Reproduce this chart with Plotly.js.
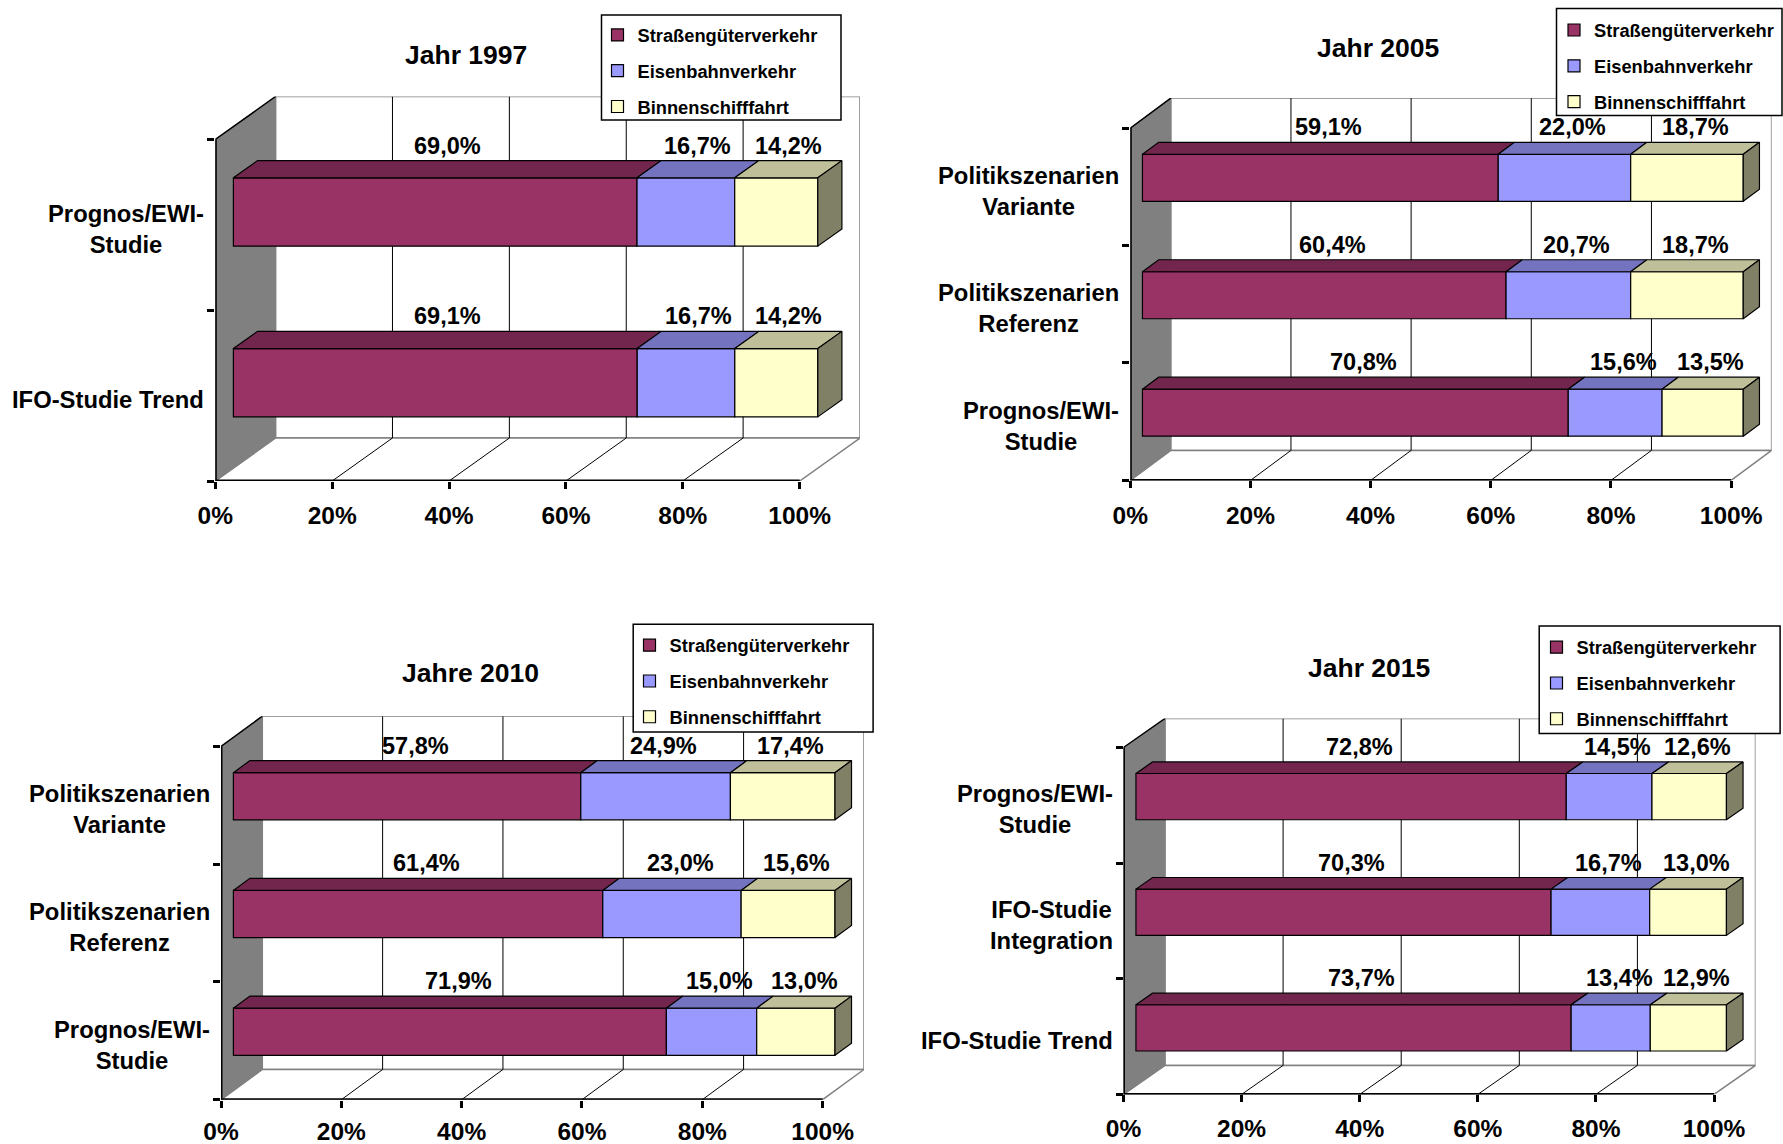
<!DOCTYPE html>
<html>
<head>
<meta charset="utf-8">
<script src="https://cdn.plot.ly/plotly-3.0.1.min.js"></script>
<style>
html,body{margin:0;padding:0;background:#ffffff;}
#chart{width:1783px;height:1144px;}
</style>
</head>
<body>
<div id="chart"></div>
<script>
// ---------------- DATA ----------------
const seriesNames = ['Straßengüterverkehr', 'Eisenbahnverkehr', 'Binnenschifffahrt'];
const xTickValues = [0, 20, 40, 60, 80, 100];
const xTickLabels = ['0%', '20%', '40%', '60%', '80%', '100%'];

const title1997 = 'Jahr 1997';
const categories1997 = ['Prognos/EWI-<br>Studie', 'IFO-Studie Trend'];
const road1997 = [69.0, 69.1];
const rail1997 = [16.7, 16.7];
const ship1997 = [14.2, 14.2];

const title2005 = 'Jahr 2005';
const categories2005 = ['Politikszenarien<br>Variante', 'Politikszenarien<br>Referenz', 'Prognos/EWI-<br>Studie'];
const road2005 = [59.1, 60.4, 70.8];
const rail2005 = [22.0, 20.7, 15.6];
const ship2005 = [18.7, 18.7, 13.5];

const title2010 = 'Jahre 2010';
const categories2010 = ['Politikszenarien<br>Variante', 'Politikszenarien<br>Referenz', 'Prognos/EWI-<br>Studie'];
const road2010 = [57.8, 61.4, 71.9];
const rail2010 = [24.9, 23.0, 15.0];
const ship2010 = [17.4, 15.6, 13.0];

const title2015 = 'Jahr 2015';
const categories2015 = ['Prognos/EWI-<br>Studie', 'IFO-Studie<br>Integration', 'IFO-Studie Trend'];
const road2015 = [72.8, 70.3, 73.7];
const rail2015 = [14.5, 16.7, 13.4];
const ship2015 = [12.6, 13.0, 12.9];

// ---------------- STYLE / LAYOUT ----------------
const W = 1783, H = 1144;
const FONT = 'Liberation Sans, Arial, Helvetica, sans-serif';
const frontColors = ['#993366', '#9999FF', '#FFFFCC'];
const topColors = ['#73264D', '#7373BF', '#BFBF99'];
const sideColor = '#808066';
const BAR = 0.4;            // bar thickness (category units)
const D1 = 0.3, D2 = 0.7;   // bar depth position (fraction of box depth)

// pixel geometry of each 3D box: front-left 0% x, front 100% x, front bottom y, front top y, depth dx, depth dy
const panels = [
  {title: title1997, cats: categories1997, series: [road1997, rail1997, ship1997],
   x0: 215.3, x100: 799.7, yb: 481, yt: 139.5, dx: 60.3, dy: 43, tickStandoff: 6,
   titlePos: [466, 55], legendBox: [601.5, 15, 841, 120], legendPos: [597.5, 16.5]},
  {title: title2005, cats: categories2005, series: [road2005, rail2005, ship2005],
   x0: 1130.3, x100: 1731.1, yb: 480.4, yt: 128.1, dx: 40.5, dy: 30, tickStandoff: 6,
   titlePos: [1378, 48.2], legendBox: [1556.5, 8.6, 1782, 115.4], legendPos: [1554, 11.6]},
  {title: title2010, cats: categories2010, series: [road2010, rail2010, ship2010],
   x0: 221, x100: 822.6, yb: 1099.7, yt: 746.4, dx: 41.3, dy: 30.2, tickStandoff: 3,
   titlePos: [470.7, 672.9], legendBox: [633.2, 624.3, 873.1, 731.9], legendPos: [629.5, 626.8]},
  {title: title2015, cats: categories2015, series: [road2015, rail2015, ship2015],
   x0: 1123.5, x100: 1714, yb: 1094.4, yt: 747.5, dx: 41.5, dy: 29, tickStandoff: 5,
   titlePos: [1368.9, 667.7], legendBox: [1539.2, 626, 1780.1, 733.6], legendPos: [1536.5, 628.8]}
];

const fmt = v => v.toFixed(1).replace('.', ',') + '%';

const traces = [];
const shapes = [];
const annotations = [];
const layout = {
  width: W, height: H,
  margin: {l: 0, r: 0, t: 0, b: 0, autoexpand: false},
  paper_bgcolor: '#ffffff', plot_bgcolor: 'rgba(0,0,0,0)',
  font: {family: FONT, color: '#000'},
  barmode: 'overlay',
  showlegend: true,
  shapes: shapes, annotations: annotations
};

panels.forEach((p, k) => {
  const ax = k === 0 ? '' : String(k + 1);
  const xa = 'x' + ax, ya = 'y' + ax;
  const legId = 'legend' + ax;
  const N = p.cats.length;
  const pxX = (p.x100 - p.x0) / 100;
  const pxY = (p.yb - p.yt) / N;
  const DXu = p.dx / pxX, DYu = p.dy / pxY;

  layout['xaxis' + ax] = {
    domain: [p.x0 / W, (p.x100 + p.dx) / W], range: [0, 100 + DXu], autorange: false, anchor: ya,
    tickmode: 'array', tickvals: xTickValues, ticktext: xTickLabels,
    ticks: 'outside', ticklen: 7, tickwidth: 3, tickcolor: '#000',
    tickfont: {family: FONT, size: 24.5, color: '#000', weight: 'bold'},
    ticklabelstandoff: p.tickStandoff,
    showgrid: false, zeroline: false, showline: false, fixedrange: true
  };
  layout['yaxis' + ax] = {
    domain: [1 - p.yb / H, 1 - (p.yt - p.dy) / H], range: [0, N + DYu], autorange: false, anchor: xa,
    tickmode: 'array', tickvals: Array.from({length: N + 1}, (_, i) => i),
    ticks: 'outside', ticklen: 7, tickwidth: 3, tickcolor: '#000', showticklabels: false,
    showgrid: false, zeroline: false, showline: false, fixedrange: true
  };
  layout[legId] = {
    x: p.legendPos[0] / W, y: 1 - p.legendPos[1] / H, xanchor: 'left', yanchor: 'top',
    bgcolor: 'rgba(0,0,0,0)', borderwidth: 0,
    font: {family: FONT, size: 18.3, color: '#000', weight: 'bold'},
    traceorder: 'grouped', tracegroupgap: 9, itemclick: false, itemdoubleclick: false
  };
  // legend frame
  shapes.push({type: 'rect', xref: 'paper', yref: 'paper', layer: 'above',
    x0: p.legendBox[0] / W, x1: p.legendBox[2] / W, y0: 1 - p.legendBox[3] / H, y1: 1 - p.legendBox[1] / H,
    fillcolor: '#ffffff', line: {color: '#000', width: 1.5}});

  const sh = o => shapes.push(Object.assign({xref: xa, yref: ya, layer: 'below'}, o));
  // back wall
  sh({type: 'rect', x0: DXu, y0: DYu, x1: 100 + DXu, y1: N + DYu, fillcolor: '#ffffff', line: {color: '#808080', width: 1.5}});
  // floor
  sh({type: 'path', path: `M0,0 L100,0 L${100 + DXu},${DYu} L${DXu},${DYu} Z`, fillcolor: '#ffffff', line: {color: '#808080', width: 1.5}});
  // left side wall
  sh({type: 'path', path: `M0,0 L0,${N} L${DXu},${N + DYu} L${DXu},${DYu} Z`, fillcolor: '#808080', line: {color: '#808080', width: 1}});
  sh({type: 'line', x0: 0, y0: N, x1: DXu, y1: N + DYu, line: {color: '#000', width: 1.5}});
  // gridlines on back wall and floor
  xTickValues.filter(v => v > 0 && v < 100).forEach(v => {
    sh({type: 'line', x0: v + DXu, y0: DYu, x1: v + DXu, y1: N + DYu, line: {color: '#000', width: 1}});
    sh({type: 'line', x0: v, y0: 0, x1: v + DXu, y1: DYu, line: {color: '#000', width: 1}});
  });
  // front axes
  sh({type: 'line', x0: 0, y0: 0, x1: 100, y1: 0, line: {color: '#000', width: 3}});
  sh({type: 'line', x0: 0, y0: 0, x1: 0, y1: N, line: {color: '#000', width: 3}});

  // title
  annotations.push({xref: 'paper', yref: 'paper', x: p.titlePos[0] / W, y: 1 - p.titlePos[1] / H,
    xanchor: 'center', yanchor: 'middle', showarrow: false, text: p.title,
    font: {family: FONT, size: 26.5, color: '#000', weight: 'bold'}});

  // category labels
  const yc = p.cats.map((c, i) => N - i - 0.5);
  p.cats.forEach((c, i) => annotations.push({xref: xa, yref: ya, x: 0, y: yc[i], xanchor: 'right', yanchor: 'middle',
    xshift: -9, yshift: -4, align: 'center', showarrow: false, text: c,
    font: {family: FONT, size: 23.8, color: '#000', weight: 'bold'}}));

  // bars (100% stacked)
  const totals = p.cats.map((c, i) => p.series.reduce((a, s) => a + s[i], 0));
  const ox1 = D1 * DXu, oy1 = D1 * DYu, ox2 = D2 * DXu, oy2 = D2 * DYu;
  let starts = p.cats.map(() => 0);
  p.series.forEach((vals, s) => {
    const norm = vals.map((v, i) => v / totals[i] * 100);
    const st = starts.slice();
    traces.push({type: 'bar', orientation: 'h', x: norm, base: st.map(b => b + ox1), y: yc.map(y => y + oy1),
      width: BAR, name: seriesNames[s], xaxis: xa, yaxis: ya, legend: legId, legendgroup: 'p' + k + 's' + s,
      marker: {color: frontColors[s], line: {color: '#000', width: 1.2}}, hoverinfo: 'skip'});
    const tx = [], ty = [];
    norm.forEach((v, i) => {
      const a = st[i], b = st[i] + v, yTop = yc[i] + BAR / 2;
      tx.push(a + ox1, b + ox1, b + ox2, a + ox2, a + ox1, null);
      ty.push(yTop + oy1, yTop + oy1, yTop + oy2, yTop + oy2, yTop + oy1, null);
      annotations.push({xref: xa, yref: ya, x: a + v / 2 + (D1 + D2) / 2 * DXu, y: yTop + oy2,
        xanchor: 'center', yanchor: 'bottom', showarrow: false, text: fmt(vals[i]),
        font: {family: FONT, size: 23.5, color: '#000', weight: 'bold'}});
    });
    traces.push({type: 'scatter', mode: 'lines', x: tx, y: ty, fill: 'toself', fillcolor: topColors[s],
      line: {color: '#000', width: 1.2}, xaxis: xa, yaxis: ya, showlegend: false, hoverinfo: 'skip'});
    starts = starts.map((b, i) => b + norm[i]);
  });
  // right side face of the stack
  const sx = [], sy = [];
  starts.forEach((e, i) => {
    const yB = yc[i] - BAR / 2, yT = yc[i] + BAR / 2;
    sx.push(e + ox1, e + ox1, e + ox2, e + ox2, e + ox1, null);
    sy.push(yB + oy1, yT + oy1, yT + oy2, yB + oy2, yB + oy1, null);
  });
  traces.push({type: 'scatter', mode: 'lines', x: sx, y: sy, fill: 'toself', fillcolor: sideColor,
    line: {color: '#000', width: 1.2}, xaxis: xa, yaxis: ya, showlegend: false, hoverinfo: 'skip'});
});

Plotly.newPlot('chart', traces, layout, {staticPlot: true, displayModeBar: false});
</script>
</body>
</html>
